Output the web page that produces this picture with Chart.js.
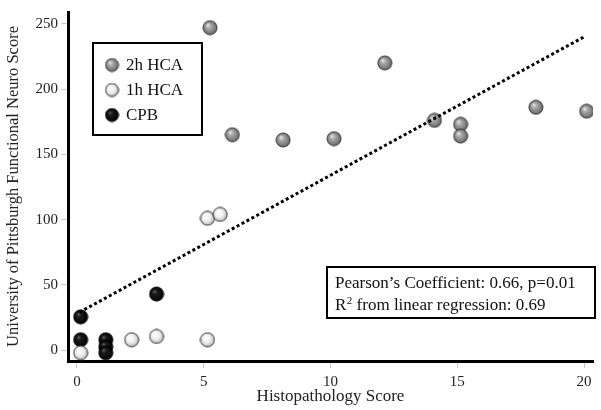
<!DOCTYPE html>
<html>
<head>
<meta charset="utf-8">
<script src="https://cdn.jsdelivr.net/npm/chart.js@4/dist/chart.umd.min.js"></script>
<style>
html,body{margin:0;padding:0;background:#fff;}
#wrap{width:601px;height:410px;position:relative;}
</style>
</head>
<body>
<div id="wrap"><canvas id="c" width="601" height="410"></canvas></div>
<script>
// ---- data ----
const hca2X = [5.25, 6.13, 8.13, 10.14, 12.14, 14.1, 15.13, 15.13, 18.1, 20.1];
const hca2Y = [247, 165, 161, 162, 220, 176, 173, 164, 186, 183];
const hca1X = [0.15, 2.16, 3.14, 5.15, 5.15, 5.65];
const hca1Y = [-2, 8, 10.5, 8, 101, 104];
const cpbX = [0.15, 0.15, 1.14, 1.14, 1.14, 3.14];
const cpbY = [25.5, 8, 8, 2.5, -2, 43];
const trendX = [0.1, 20];
const trendY = [29, 240];
const xTicks = [0, 5, 10, 15, 20];
const yTicks = [0, 50, 100, 150, 200, 250];
const seriesLabels = ['2h HCA', '1h HCA', 'CPB'];
const xTitle = 'Histopathology Score';
const yTitle = 'University of Pittsburgh Functional Neuro Score';
const noteLine1 = 'Pearson\u2019s Coefficient: 0.66, p=0.01';
const noteLine2a = 'R';
const noteLine2sup = '2';
const noteLine2b = ' from linear regression: 0.69';

const SERIF = '"Liberation Serif", "Times New Roman", serif';

function sphere(kind, r) {
  const s = Math.ceil(2 * r + 2);
  const cv = document.createElement('canvas');
  cv.width = s; cv.height = s;
  const g = cv.getContext('2d');
  const c = s / 2;
  const grad = g.createRadialGradient(c - r * 0.35, c - r * 0.4, 0, c, c, r * 1.05);
  if (kind === 'gray') {
    grad.addColorStop(0, '#eeeeee');
    grad.addColorStop(0.35, '#a9a9a9');
    grad.addColorStop(0.8, '#7a7a7a');
    grad.addColorStop(1, '#555555');
  } else if (kind === 'white') {
    grad.addColorStop(0, '#ffffff');
    grad.addColorStop(0.55, '#f1f1f1');
    grad.addColorStop(0.85, '#c9c9c9');
    grad.addColorStop(1, '#8a8a8a');
  } else {
    grad.addColorStop(0, '#6a6a6a');
    grad.addColorStop(0.3, '#1c1c1c');
    grad.addColorStop(1, '#000000');
  }
  g.beginPath();
  g.arc(c, c, r, 0, Math.PI * 2);
  g.fillStyle = grad;
  g.fill();
  g.lineWidth = 1;
  g.strokeStyle = kind === 'black' ? '#000' : '#3a3a3a';
  g.stroke();
  return cv;
}

const R = 7;
const imgGray = sphere('gray', R);
const imgWhite = sphere('white', R);
const imgBlack = sphere('black', R);
const legImgs = [sphere('gray', 6.5), sphere('white', 6.5), sphere('black', 6.5)];

function pts(xs, ys) { return xs.map((x, i) => ({x: x, y: ys[i]})); }

const overlay = {
  id: 'overlay',
  afterDatasetsDraw(chart) {
    const ctx = chart.ctx;
    ctx.save();
    // legend box
    ctx.lineWidth = 2;
    ctx.strokeStyle = '#000';
    ctx.strokeRect(93, 43, 109, 92);
    const rows = [65, 90, 115];
    ctx.font = '17px ' + SERIF;
    ctx.fillStyle = '#111';
    ctx.textBaseline = 'middle';
    ctx.textAlign = 'left';
    rows.forEach((yy, i) => {
      const im = legImgs[i];
      ctx.drawImage(im, 112 - im.width / 2, yy - im.height / 2);
      ctx.fillText(seriesLabels[i], 126, yy + 1);
    });
    // note box
    ctx.strokeRect(327, 267, 268, 51);
    ctx.font = '17px ' + SERIF;
    ctx.fillText(noteLine1, 335, 284);
    let x = 335;
    ctx.fillText(noteLine2a, x, 306);
    x += ctx.measureText(noteLine2a).width;
    ctx.font = '11px ' + SERIF;
    ctx.fillText(noteLine2sup, x + 0.5, 301);
    x += ctx.measureText(noteLine2sup).width + 0.5;
    ctx.font = '17px ' + SERIF;
    ctx.fillText(noteLine2b, x, 306);
    ctx.restore();
  }
};

new Chart(document.getElementById('c'), {
  type: 'scatter',
  data: {
    datasets: [
      {
        type: 'line',
        label: 'trend',
        data: pts(trendX, trendY),
        borderColor: '#000',
        borderWidth: 3,
        borderDash: [3, 2.6],
        borderCapStyle: 'butt',
        pointRadius: 0,
        fill: false,
        order: 0
      },
      {
        label: seriesLabels[0],
        data: pts(hca2X, hca2Y),
        pointStyle: imgGray,
        pointRadius: R,
        order: 1
      },
      {
        label: seriesLabels[1],
        data: pts(hca1X, hca1Y),
        pointStyle: imgWhite,
        pointRadius: R,
        order: 2
      },
      {
        label: seriesLabels[2],
        data: pts(cpbX, cpbY),
        pointStyle: imgBlack,
        pointRadius: R,
        order: 3
      }
    ]
  },
  options: {
    responsive: false,
    animation: false,
    events: [],
    layout: { padding: { top: 5, right: 6, left: 0, bottom: 0 } },
    plugins: { legend: { display: false }, tooltip: { enabled: false } },
    scales: {
      x: {
        type: 'linear',
        min: -0.35,
        max: 20.35,
        afterFit(s) { s.height = 49; },
        afterBuildTicks(s) { s.ticks = xTicks.map(v => ({value: v})); },
        ticks: {
          font: { family: SERIF, size: 15 },
          color: '#222',
          padding: 5,
          maxRotation: 0
        },
        grid: { drawOnChartArea: false, drawTicks: true, tickLength: 7, color: '#c8c8c8', lineWidth: 1 },
        border: { display: true, color: '#000', width: 3 },
        title: {
          display: true,
          text: xTitle,
          font: { family: SERIF, size: 17 },
          color: '#222',
          padding: { top: 2, bottom: 3 }
        }
      },
      y: {
        type: 'linear',
        min: -8.3,
        max: 259,
        afterFit(s) { s.width = 68; },
        afterBuildTicks(s) { s.ticks = yTicks.map(v => ({value: v})); },
        ticks: {
          font: { family: SERIF, size: 15 },
          color: '#222',
          padding: 3
        },
        grid: { drawOnChartArea: false, drawTicks: true, tickLength: 7, color: '#c8c8c8', lineWidth: 1 },
        border: { display: true, color: '#000', width: 3 },
        title: {
          display: true,
          text: yTitle,
          font: { family: SERIF, size: 16.5 },
          color: '#222',
          padding: { top: 4, bottom: 4 }
        }
      }
    }
  },
  plugins: [overlay]
});
</script>
</body>
</html>
